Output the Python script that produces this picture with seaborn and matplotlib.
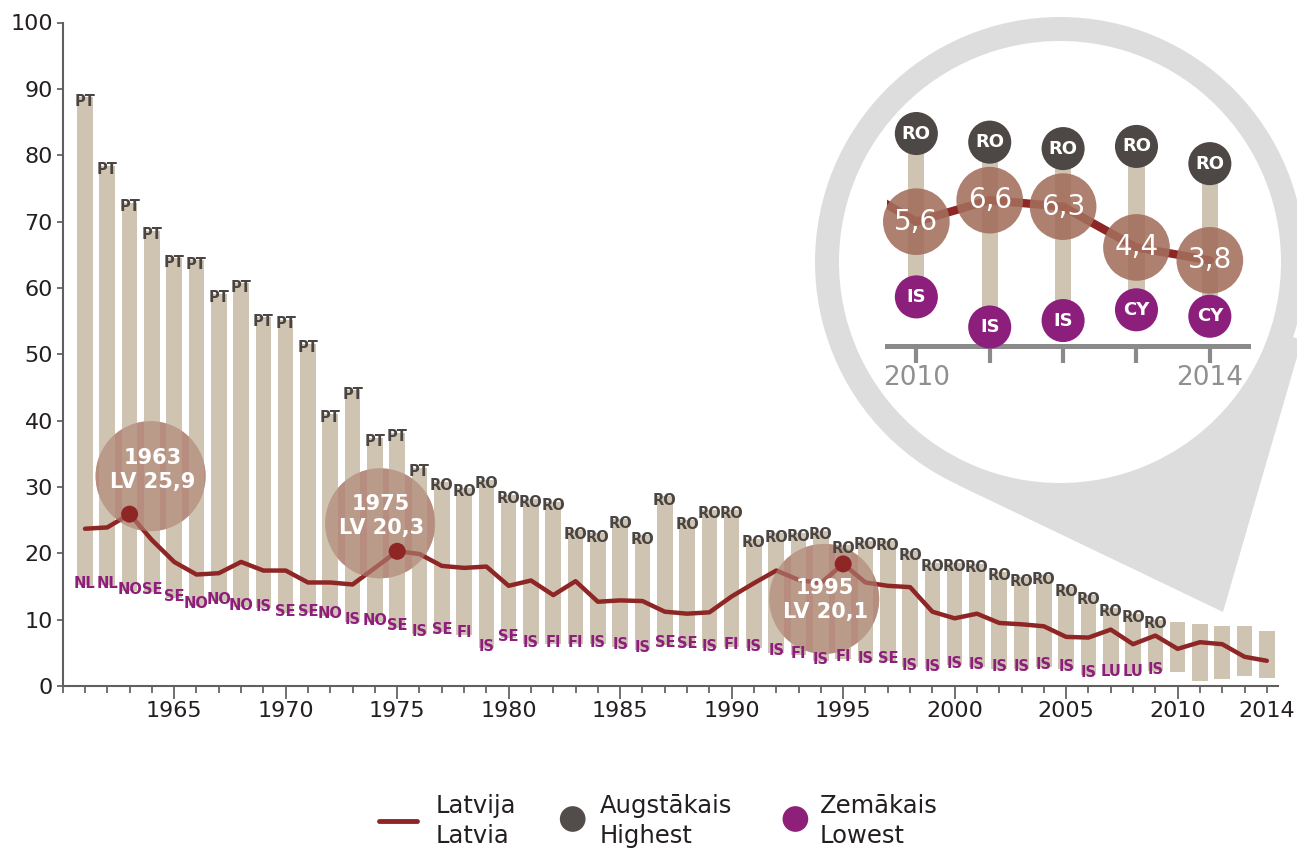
import matplotlib
matplotlib.use('Agg')
import numpy as np
import pandas as pd
import matplotlib.pyplot as plt
import seaborn as sns
from matplotlib.patches import Circle, Polygon
from matplotlib.transforms import IdentityTransform

# Data: infant mortality per 1000 live births

years = list(range(1961, 2015))

latvia = [23.7, 23.9, 25.9, 22.0, 18.7, 16.8, 17.0, 18.7, 17.4, 17.4,
          15.6, 15.6, 15.3, 17.8, 20.3, 19.9, 18.1, 17.8, 18.0, 15.1,
          15.9, 13.7, 15.8, 12.7, 12.9, 12.8, 11.2, 10.9, 11.1, 13.5,
          15.5, 17.4, 16.0, 15.5, 18.4, 15.6, 15.1, 14.9, 11.2, 10.2,
          10.9, 9.5, 9.3, 9.0, 7.4, 7.3, 8.5, 6.3, 7.6, 5.6,
          6.6, 6.3, 4.4, 3.8]

highest = [88.7, 78.4, 72.8, 68.6, 64.5, 64.2, 59.1, 60.7, 55.6, 55.2,
           51.6, 41.0, 44.6, 37.4, 38.2, 32.9, 30.8, 29.9, 31.1, 28.8,
           28.2, 27.8, 23.5, 23.0, 25.1, 22.7, 28.6, 25.0, 26.6, 26.6,
           22.2, 23.0, 23.1, 23.4, 21.3, 21.9, 21.8, 20.3, 18.6, 18.6,
           18.4, 17.2, 16.4, 16.7, 14.9, 13.7, 11.8, 10.9, 10.0, 9.7,
           9.3, 9.0, 9.1, 8.3]

lowest = [15.2, 15.2, 14.3, 14.2, 13.2, 12.1, 12.8, 11.9, 11.7, 11.0,
          11.0, 10.6, 9.7, 9.6, 8.8, 7.9, 8.2, 7.7, 5.7, 7.2,
          6.3, 6.3, 6.3, 6.3, 5.9, 5.5, 6.2, 6.1, 5.7, 5.9,
          5.7, 5.0, 4.6, 3.7, 4.1, 3.8, 3.8, 2.8, 2.6, 3.1,
          2.9, 2.6, 2.6, 2.9, 2.6, 1.7, 1.9, 1.9, 2.2, 2.1,
          0.7, 1.0, 1.5, 1.2]

highest_cc = ['PT'] * 16 + ['RO'] * 38

lowest_cc = ['NL', 'NL', 'NO', 'SE', 'SE', 'NO', 'NO', 'NO', 'IS', 'SE',
             'SE', 'NO', 'IS', 'NO', 'SE', 'IS', 'SE', 'FI', 'IS', 'SE',
             'IS', 'FI', 'FI', 'IS', 'IS', 'IS', 'SE', 'SE', 'IS', 'FI',
             'IS', 'IS', 'FI', 'IS', 'FI', 'IS', 'SE', 'IS', 'IS', 'IS',
             'IS', 'IS', 'IS', 'IS', 'IS', 'IS', 'LU', 'LU', 'IS', 'IS',
             'IS', 'IS', 'CY', 'CY']

annot_years = [1963, 1975, 1995]
annot_text = ['1963\nLV 25,9', '1975\nLV 20,3', '1995\nLV 20,1']

x_ticks = [1965, 1970, 1975, 1980, 1985, 1990, 1995, 2000, 2005, 2010, 2014]
inset_from = 2010

df = pd.DataFrame({'year': years, 'latvia': latvia, 'high': highest,
                   'low': lowest, 'high_cc': highest_cc, 'low_cc': lowest_cc})

# Setup

sns.set_theme(style='white')
plt.rcParams['font.family'] = ['DejaVu Sans']

BAR = '#c3b49f'
RED = '#8f2626'
DARK = '#4a4542'
PURPLE = '#8e1e7c'
BUBBLE = '#b68d7f'
TXT = '#231f20'

W, H = 1297, 848
fig = plt.figure(figsize=(W / 100, H / 100), dpi=100)
fig.patch.set_facecolor('white')


def px_box(x0, y0, x1, y1):
    """pixel box (origin top-left) -> figure fraction rect"""
    return [x0 / W, 1 - y1 / H, (x1 - x0) / W, (y1 - y0) / H]


# Main chart

ax = fig.add_axes(px_box(62.7, 22.5, 1278, 686), zorder=1)
ax.set_facecolor('white')
ax.set_xlim(1960, 2014.5)
ax.set_ylim(0, 100)

ax.bar(df['year'], df['high'] - df['low'], bottom=df['low'], width=0.7,
       color=BAR, alpha=0.8, zorder=2, linewidth=0)
sns.lineplot(data=df, x='year', y='latvia', ax=ax, color=RED, linewidth=3.2, zorder=3)
ax.set_xlabel('')
ax.set_ylabel('')

main = df[df['year'] < inset_from]
for _, r in main.iterrows():
    ax.annotate(r['high_cc'], (r['year'], r['high']), xytext=(0, -4), textcoords='offset pixels',
                ha='center', va='center', fontsize=10.5, fontweight='bold', color=DARK, zorder=6)
    ax.annotate(r['low_cc'], (r['year'], r['low']), xytext=(0, 2), textcoords='offset pixels',
                ha='center', va='center', fontsize=10.5, fontweight='bold', color=PURPLE, zorder=6)

# highlighted years
circle_off = [(21, 38), (-17, 28), (-19, -35)]
text_off = [(2, 6), (1, 7), (1, -1)]
for yr, txt, (dx, dy), (tx, ty) in zip(annot_years, annot_text, circle_off, text_off):
    val = df.loc[df['year'] == yr, 'latvia'].iloc[0]
    px, py = ax.transData.transform((yr, val))
    base = Circle((px + dx, py + dy), 55, transform=IdentityTransform(), color=BUBBLE,
                  zorder=1, linewidth=0)
    veil = Circle((px + dx, py + dy), 55, transform=IdentityTransform(), color=BUBBLE,
                  alpha=0.55, zorder=4, linewidth=0)
    ax.add_patch(base)
    ax.add_patch(veil)
    ax.annotate(txt, (yr, val), xytext=(dx + tx, dy + ty), textcoords='offset pixels',
                ha='center', va='center', fontsize=15, fontweight='bold', color='white',
                linespacing=1.25, zorder=5)
    ax.scatter([yr], [val], s=150, color=RED, zorder=7, edgecolor='none')

ax.set_yticks(range(0, 101, 10))
ax.set_xticks(x_ticks)
ax.set_xticklabels([str(v) for v in x_ticks])
ax.set_xticks(range(1960, 2015), minor=True)
ax.tick_params(axis='x', which='major', direction='out', length=9.5, width=1.3,
               color='#666666', labelsize=16, labelcolor=TXT, pad=1, bottom=True)
ax.tick_params(axis='x', which='minor', direction='out', length=5, width=1.3,
               color='#666666', bottom=True)
ax.xaxis.get_major_ticks()[-1].tick1line.set_markersize(5)
ax.tick_params(axis='y', direction='out', length=4, width=1.3, color='#666666',
               labelsize=16, labelcolor=TXT, pad=3, left=True)
for s in ['top', 'right']:
    ax.spines[s].set_visible(False)
for s in ['left', 'bottom']:
    ax.spines[s].set_color('#5f5f5f')
    ax.spines[s].set_linewidth(1.5)

# Bubble + legend overlay (pixel coordinates)

ov = fig.add_axes([0, 0, 1, 1], zorder=2)
ov.set_xlim(0, W)
ov.set_ylim(H, 0)
ov.axis('off')
ov.patch.set_alpha(0)
ov.add_patch(Circle((1060, 262), 245, color='#dddddd', linewidth=0))
ov.add_patch(Polygon([(958, 485), (1223, 612), (1302, 340), (1060, 262)],
                     closed=True, color='#dddddd', linewidth=0))
ov.add_patch(Circle((1060, 262), 221, color='white', linewidth=0))

ov.plot([379, 417], [821, 821], color=RED, lw=3.5, solid_capstyle='round')
ov.text(436, 821, 'Latvija\nLatvia', ha='left', va='center', fontsize=17.5,
        color=TXT, linespacing=1.3)
ov.scatter([572.7], [819], s=18.5 ** 2, color='#524d4a', edgecolor='none')
ov.text(600, 821, 'Augstākais\nHighest', ha='left', va='center', fontsize=17.5,
        color=TXT, linespacing=1.3)
ov.scatter([795.4], [819], s=18.5 ** 2, color='#8e2079', edgecolor='none')
ov.text(820, 821, 'Zemākais\nLowest', ha='left', va='center', fontsize=17.5,
        color=TXT, linespacing=1.3)

# Inset: last five years

ax_in = fig.add_axes(px_box(887, 100, 1248, 345.7), zorder=3)
ax_in.set_facecolor('none')
ax_in.set_xlim(2009.6, 2014.52)
ax_in.set_ylim(-0.17, 11.26)

last = df[df['year'] >= inset_from]
ax_in.bar(last['year'], last['high'] - last['low'], bottom=last['low'], width=0.22,
          color='#cfc3b2', zorder=1, linewidth=0)
sns.lineplot(data=df[df['year'] >= inset_from - 1], x='year', y='latvia', ax=ax_in,
             color=RED, linewidth=6, zorder=2, solid_capstyle='round')
ax_in.set_xlabel('')
ax_in.set_ylabel('')
ax_in.scatter(last['year'], last['high'], s=31 ** 2, color='#4d4845', edgecolor='none',
              zorder=4, clip_on=False)
ax_in.scatter(last['year'], last['low'], s=31 ** 2, color='#8c1f7b', edgecolor='none',
              zorder=4, clip_on=False)
ax_in.scatter(last['year'], last['latvia'], s=48 ** 2, color='#a36e5c', alpha=0.88,
              edgecolor='none', zorder=3, clip_on=False)
for _, r in last.iterrows():
    ax_in.text(r['year'], r['high'], r['high_cc'], ha='center', va='center', color='white',
               fontsize=13, fontweight='bold', zorder=5)
    ax_in.text(r['year'], r['low'], r['low_cc'], ha='center', va='center', color='white',
               fontsize=13, fontweight='bold', zorder=5)
    ax_in.text(r['year'], r['latvia'], f"{r['latvia']:.1f}".replace('.', ','), ha='center',
               va='center', color='white', fontsize=20, zorder=5)

inset_years = list(last['year'])
ax_in.set_xticks(inset_years)
ax_in.set_xticklabels([str(v) if v in (inset_years[0], inset_years[-1]) else '' for v in inset_years])
ax_in.set_yticks([])
ax_in.tick_params(axis='x', direction='out', length=12, width=3, color='#8a8a8a',
                  labelsize=19, labelcolor='#909090', pad=2, bottom=True)
for s in ['top', 'right', 'left']:
    ax_in.spines[s].set_visible(False)
ax_in.spines['bottom'].set_color('#8a8a8a')
ax_in.spines['bottom'].set_linewidth(3.6)

fig.savefig('out.png', dpi=100, facecolor='white')
